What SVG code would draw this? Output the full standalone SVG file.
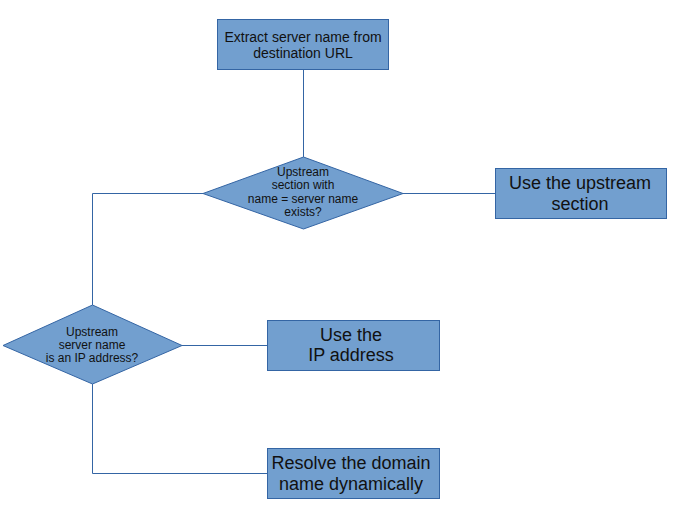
<svg xmlns="http://www.w3.org/2000/svg" width="687" height="513" viewBox="0 0 687 513">
<style>
.n{fill:#729fcf;stroke:#3465a4;stroke-width:1}
.c{fill:none;stroke:#3465a4;stroke-width:1}
text{font-family:"Liberation Sans",Arial,sans-serif;fill:#111;text-anchor:middle}
.s{font-size:12px}.m{font-size:14px}.l{font-size:18px}
</style>
<rect width="687" height="513" fill="#fff"/>
<g id="connectors">
<path class="c" d="M303.5 69V157"/>
<path class="c" d="M403 193.5H495"/>
<path class="c" d="M203 193.5H92.5V305"/>
<path class="c" d="M182 345.5H267"/>
<path class="c" d="M92.5 384V473.5H267"/>
</g>
<g id="extract">
<rect class="n" x="217.5" y="19.5" width="171" height="50"/>
<text class="m" x="303" y="42">Extract server name from</text>
<text class="m" x="303" y="58">destination URL</text>
</g>
<g id="decision1">
<polygon class="n" points="303.5,157 403,193.5 303.5,229 203,193.5"/>
<text class="s" x="303" y="176">Upstream</text>
<text class="s" x="303" y="189">section with</text>
<text class="s" x="303" y="203">name = server name</text>
<text class="s" x="303" y="216">exists?</text>
</g>
<g id="useUpstream">
<rect class="n" x="495.5" y="168.5" width="171" height="50"/>
<text class="l" x="580" y="189">Use the upstream</text>
<text class="l" x="580" y="210">section</text>
</g>
<g id="decision2">
<polygon class="n" points="92.5,305 182,345.5 92.5,384 3,345.5"/>
<text class="s" x="92" y="336">Upstream</text>
<text class="s" x="92" y="349">server name</text>
<text class="s" x="92" y="362">is an IP address?</text>
</g>
<g id="useIP">
<rect class="n" x="267.5" y="320.5" width="172" height="50"/>
<text class="l" x="351" y="341">Use the</text>
<text class="l" x="351" y="361">IP address</text>
</g>
<g id="resolve">
<rect class="n" x="267.5" y="448.5" width="172" height="50"/>
<text class="l" x="351" y="469">Resolve the domain</text>
<text class="l" x="351" y="490">name dynamically</text>
</g>
</svg>
